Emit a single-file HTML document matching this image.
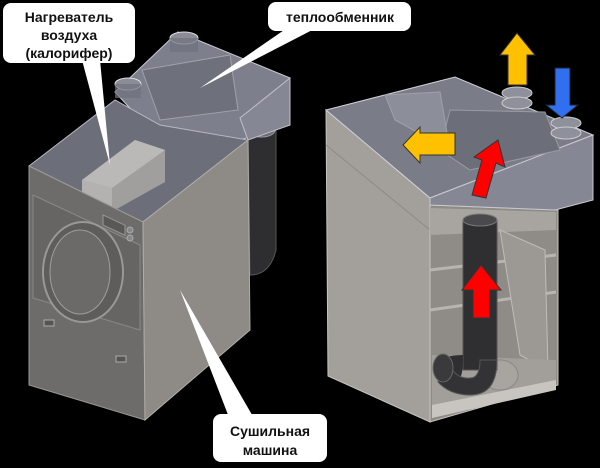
<!DOCTYPE html>
<html><head><meta charset="utf-8"><style>
html,body{margin:0;padding:0;background:#000;}
svg{display:block}
text{font-family:"Liberation Sans","DejaVu Sans",sans-serif;font-weight:bold;font-size:14px;fill:#111}
</style></head><body>
<svg width="600" height="468" viewBox="0 0 600 468" xmlns="http://www.w3.org/2000/svg">
<rect width="600" height="468" fill="#000"/>
<!-- LEFT MACHINE -->
<!-- back duct -->
<path d="M248,128 Q262,118 276,128 L276,250 Q270,275 250,275 Z" fill="#2e2e30" stroke="#555" stroke-width="1"/>
<ellipse cx="262" cy="130" rx="13" ry="7" fill="#6a6c72" stroke="#999"/>
<!-- heat exchanger box (transparent) -->
<polygon points="115,92 178,32 290,78 290,125 240,140 150,130" fill="#7d808c" stroke="#c8c8d0" stroke-width="1"/>
<polygon points="142,70 230,55 238,110 160,120" fill="#6e717c" stroke="#a0a0a8"/>
<polygon points="240,118 290,78 290,125 248,140" fill="#858894" stroke="#c0c0c8"/>
<ellipse cx="184" cy="38" rx="14" ry="6" fill="#8a8d98" stroke="#ddd"/>
<rect x="170" y="38" width="28" height="14" fill="#6f727d" opacity="0.7"/>
<ellipse cx="128" cy="84" rx="13" ry="6" fill="#8a8d98" stroke="#ddd"/>
<rect x="115" y="84" width="26" height="14" fill="#6f727d" opacity="0.7"/>
<!-- top transparent region -->
<polygon points="29,166 115,100 160,125 248,140 143,222" fill="#6c6f7a" stroke="#b8b8c0"/>
<!-- heater block -->
<polygon points="82,180 135,140 165,150 165,182 115,210 82,200" fill="#9e9c9c"/>
<polygon points="82,180 112,188 112,210 82,200" fill="#b4b2b0"/>
<polygon points="112,188 165,150 165,182 112,210" fill="#a19f9d"/>
<polygon points="82,180 135,140 165,150 112,188" fill="#bbb9b8"/>
<!-- front face -->
<polygon points="29,166 143,222 145,420 29,385" fill="#6e6c6a" stroke="#9a9894"/>
<polygon points="33,195 140,245 140,330 33,298" fill="#676563" stroke="#8a8884"/>
<ellipse cx="83" cy="272" rx="40" ry="50" fill="#5f5d5c" stroke="#9a9894" stroke-width="2"/>
<ellipse cx="80" cy="272" rx="30" ry="42" fill="#6c6a68" stroke="#a09e9a"/>
<rect x="103" y="217" width="22" height="10" fill="#5a5856" stroke="#9a9894" transform="skewY(25) translate(0,-50)"/>
<circle cx="130" cy="230" r="3" fill="#888" stroke="#aaa"/>
<circle cx="130" cy="238" r="3" fill="#888" stroke="#aaa"/>
<rect x="44" y="320" width="10" height="6" fill="#555" stroke="#aaa"/>
<rect x="116" y="356" width="10" height="6" fill="#555" stroke="#aaa"/>
<!-- side face -->
<polygon points="143,222 248,140 250,330 145,420" fill="#8e8a86" stroke="#b0aca8"/>
<!-- RIGHT MACHINE -->
<!-- left side face -->
<polygon points="326,110 430,198 430,422 328,376" fill="#a39f9b" stroke="#c8c4c0"/>
<line x1="326" y1="145" x2="430" y2="230" stroke="#8e8a86"/>
<!-- interior -->
<polygon points="430,205 558,210 558,385 430,422" fill="#8f8b87" stroke="#c8c4c0"/>
<polygon points="430,208 556,212 556,230 430,235" fill="#a8a4a0"/>
<line x1="430" y1="270" x2="556" y2="255" stroke="#b8b4b0" stroke-width="3"/>
<line x1="430" y1="310" x2="556" y2="292" stroke="#b8b4b0" stroke-width="3"/>
<polygon points="500,230 545,250 548,370 520,355" fill="#9c9894" stroke="#c0bcb8"/>
<polygon points="432,355 556,360 556,385 432,410" fill="#a29e9a"/>
<ellipse cx="500" cy="375" rx="18" ry="15" fill="#a8a4a0" stroke="#888"/>
<polygon points="432,405 556,380 556,390 432,418" fill="#c8c4c0"/>
<!-- pipe -->
<rect x="463" y="220" width="34" height="150" fill="#2f2f31" stroke="#555"/>
<ellipse cx="480" cy="220" rx="17" ry="6" fill="#4a4a4c" stroke="#777"/>
<path d="M463,360 Q463,390 445,385 L440,360 Q448,355 463,355 Z" fill="#2f2f31"/>
<path d="M497,360 Q497,395 470,395 Q450,395 438,382 L445,358 Q455,380 470,378 Q480,378 480,360 Z" fill="#333335" stroke="#555"/>
<ellipse cx="443" cy="368" rx="10" ry="14" fill="#3a3a3c" stroke="#666"/>
<!-- top box -->
<polygon points="326,110 455,77 593,135 430,198" fill="#7a7d88" stroke="#d0d0d8"/>
<polygon points="430,198 593,135 593,200 555,210 430,205" fill="#858894" stroke="#c8c8d0"/>
<polygon points="450,110 545,112 560,150 470,170 440,150" fill="#6c6f7a" stroke="#9a9aa2"/>
<polygon points="385,95 440,92 450,150 395,120" fill="#8c8f9a" stroke="#a0a0a8"/>
<ellipse cx="517" cy="93" rx="15" ry="6" fill="#8e919c" stroke="#ccc"/>
<ellipse cx="517" cy="103" rx="15" ry="6" fill="#8e919c" stroke="#ccc"/>
<ellipse cx="566" cy="123" rx="15" ry="6" fill="#8e919c" stroke="#ccc"/>
<ellipse cx="566" cy="133" rx="15" ry="6" fill="#8e919c" stroke="#ccc"/>
<!-- arrows -->
<polygon points="508,55 508,85 527,85 527,55 535,55 517,33 500,55" fill="#ffc000" stroke="#333"/>
<polygon points="555,68 570,68 570,105 578,105 562,118 546,105 555,105" fill="#2f6ff0" stroke="#222"/>
<polygon points="455,133 455,155 420,155 420,163 403,145 420,127 420,133" fill="#ffc000" stroke="#333"/>
<polygon points="472,195 482,160 474,157 498,140 505,167 496,163 486,198" fill="#ff0000" stroke="#333"/>
<polygon points="473,318 473,290 462,290 481,265 501,290 490,290 490,318" fill="#ff0000" stroke="#333"/>
<!-- LABELS -->
<polygon points="82,60 100,60 110,165" fill="#fff"/>
<rect x="3" y="3" width="132" height="60" rx="8" fill="#fff"/>
<text x="69" y="22" text-anchor="middle">Нагреватель</text>
<text x="69" y="40" text-anchor="middle">воздуха</text>
<text x="69" y="58" text-anchor="middle">(калорифер)</text>
<polygon points="290,26 320,26 200,88" fill="#fff"/>
<rect x="268" y="2" width="143" height="29" rx="8" fill="#fff"/>
<text x="340" y="22" text-anchor="middle">теплообменник</text>
<polygon points="230,420 255,420 180,290" fill="#fff"/>
<rect x="213" y="414" width="114" height="48" rx="8" fill="#fff"/>
<text x="270" y="436" text-anchor="middle">Сушильная</text>
<text x="270" y="455" text-anchor="middle">машина</text>
</svg>
</body></html>
